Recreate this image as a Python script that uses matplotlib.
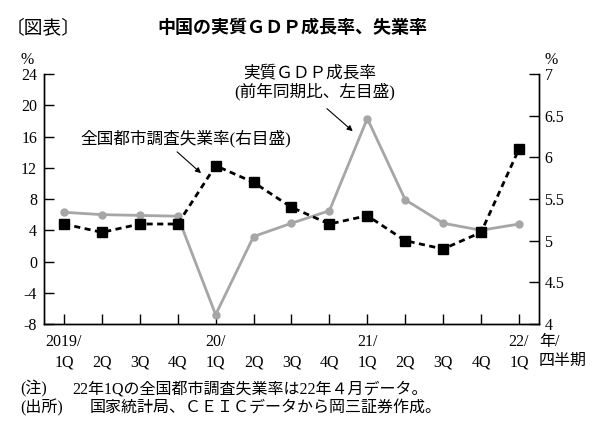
import matplotlib
matplotlib.use("Agg")
import matplotlib.pyplot as plt
from matplotlib.ticker import FuncFormatter

plt.rcParams['font.family'] = ['Liberation Serif', 'Noto Sans CJK JP', 'DejaVu Sans']
plt.rcParams['axes.unicode_minus'] = False

# data
years = ["2019/", "", "", "", "20/", "", "", "", "21/", "", "", "", "22/"]
quarters = ["1Q", "2Q", "3Q", "4Q"] * 3 + ["1Q"]
gdp = [6.3, 6.0, 5.9, 5.8, -6.8, 3.2, 4.9, 6.5, 18.3, 7.9, 4.9, 4.0, 4.8]
unemp = [5.2, 5.1, 5.2, 5.2, 5.9, 5.7, 5.4, 5.2, 5.3, 5.0, 4.9, 5.1, 6.1]
left_ticks = [-8, -4, 0, 4, 8, 12, 16, 20, 24]
right_ticks = [4, 4.5, 5, 5.5, 6, 6.5, 7]

x = list(range(len(gdp)))
xlabels = [f"{y}\n{q}" for y, q in zip(years, quarters)]

fig = plt.figure(figsize=(6, 4.26), dpi=100)
ax = fig.add_axes([0.0733, 0.2394, 0.825, 0.5869])
ax2 = ax.twinx()

ax.plot(x, gdp, color="#a6a6a6", lw=2.0, marker="o", ms=5, zorder=3)
ax2.plot(x, unemp, color="black", lw=2.0, ls=(0, (2.2, 1.6)), marker="s", ms=6.5, zorder=4)

ax.set_xlim(-0.527, 12.527)
ax.set_ylim(-8, 24)
ax.set_yticks(left_ticks)
ax2.set_ylim(4, 7)
ax2.set_yticks(right_ticks)
ax2.yaxis.set_major_formatter(FuncFormatter(lambda v, p: f"{v:g}"))
ax.set_xticks(x)
ax.set_xticklabels(xlabels, linespacing=1.4)

for a in (ax, ax2):
    a.spines['top'].set_visible(False)
    for s in a.spines.values():
        s.set_linewidth(1.0)
ax.tick_params(axis='y', direction='in', length=7, width=1, labelsize=11.5, pad=5)
ax2.tick_params(axis='y', direction='in', length=7, width=1, labelsize=11.5, pad=4)
ax.tick_params(axis='x', direction='in', length=7, width=1, labelsize=11.5, pad=7)

# unit labels
fig.text(27 / 600, 1 - 60 / 426, "%", ha="center", va="center", fontsize=11.5)
fig.text(551 / 600, 1 - 60 / 426, "%", ha="center", va="center", fontsize=11.5)
ax.text(1.0, -0.04, "年/\n四半期", transform=ax.transAxes, ha="left", va="top",
        fontsize=11.5, linespacing=1.25)

# annotations
ax.text(6.49, 24.1, "実質ＧＤＰ成長率", ha="center", va="center", fontsize=12)
ax.text(6.6, 21.7, "(前年同期比、左目盛)", ha="center", va="center", fontsize=12)
ax.annotate("", xy=(7.67, 16.45), xytext=(6.88, 19.8),
            arrowprops=dict(arrowstyle="-|>", color="black", lw=0.8, mutation_scale=8))
ax.text(3.2, 15.8, "全国都市調査失業率(右目盛)", ha="center", va="center", fontsize=12)
ax.annotate("", xy=(3.67, 11.07), xytext=(2.93, 14.27),
            arrowprops=dict(arrowstyle="-|>", color="black", lw=0.8, mutation_scale=8))

# titles
fig.text(6 / 600, 1 - 28 / 426, "〔図表〕", ha="left", va="center", fontsize=13.5)
fig.text(292 / 600, 1 - 28 / 426, "中国の実質ＧＤＰ成長率、失業率", ha="center", va="center",
         fontsize=13, fontweight="bold")

# notes
fig.text(20 / 600, 1 - 389 / 426, "(注)", ha="left", va="center", fontsize=11.5)
fig.text(72 / 600, 1 - 389 / 426, "22年1Qの全国都市調査失業率は22年４月データ。",
         ha="left", va="center", fontsize=11.5)
fig.text(20 / 600, 1 - 408 / 426, "(出所)", ha="left", va="center", fontsize=11.5)
fig.text(90 / 600, 1 - 408 / 426, "国家統計局、ＣＥＩＣデータから岡三証券作成。",
         ha="left", va="center", fontsize=11.5)

fig.savefig("out.png", dpi=100)
